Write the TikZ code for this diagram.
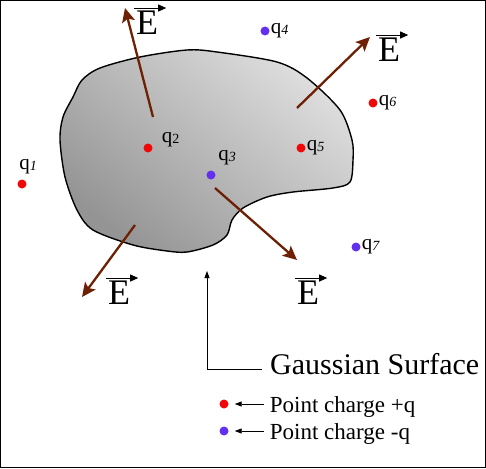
\documentclass[tikz,border=0pt]{standalone}
\usepackage{fontspec}
\setmainfont{Liberation Serif}
\usetikzlibrary{arrows.meta,positioning}

\definecolor{fieldbrown}{RGB}{110,32,4}
\definecolor{posred}{RGB}{240,8,8}
\definecolor{negblue}{RGB}{100,48,240}

\newcommand{\qsub}[1]{q\raisebox{-0.5pt}{\fontsize{14}{14}\selectfont #1}}

\begin{document}
\begin{tikzpicture}[
  x=1pt, y=-1pt,
  charge/.style={
    circle, inner sep=0pt, minimum size=9pt,
  },
  poscharge/.style={charge, fill=posred},
  negcharge/.style={charge, fill=negblue},
  qname/.style={font=\fontsize{21}{21}\selectfont, inner sep=1pt},
  field/.style={
    draw=fieldbrown, line width=2.3pt,
    -{Stealth[length=14pt, width=13pt, inset=3pt]}
  },
  efield/.style={font=\fontsize{36}{36}\selectfont, inner sep=0pt},
  vecarrow/.style={line width=0.9pt, -{Triangle[length=8pt, width=7pt]}},
  pointer/.style={line width=0.8pt, -{Triangle[length=7pt, width=5pt]}},
  legend/.style={font=\fontsize{23}{23}\selectfont, inner sep=0pt}
  ]
  \useasboundingbox (0,0) rectangle (486,468);
  \draw[line width=1.2pt] (0.6,0.6) rectangle (485.4,467.4);

  % the gaussian surface
  \draw[top color=black!13, bottom color=black!42, shading angle=-40, line width=1.4pt]
    plot[smooth cycle, tension=0.5] coordinates {
      (82,80) (100,68) (140,57) (187,50) (217,52) (277,62) (307,78)
      (340,110) (352,140) (353,160) (350,182) (333,188) (293,192)
      (267,197) (243,208) (232,220) (227,235) (213,245) (187,252)
      (167,251) (133,245) (93,230) (77,210) (65,177) (60,140)
      (63,117) (73,97)
    };

  % field arrows
  \coordinate (f1s) at (153,117);
  \coordinate (f1e) at (125,8);
  \coordinate (f2s) at (297,108);
  \coordinate (f2e) at (370,37);
  \coordinate (f3s) at (135,225);
  \coordinate (f3e) at (82,297);
  \coordinate (f4s) at (215,188);
  \coordinate (f4e) at (297,260);
  \draw[field] (f1s) -- (f1e);
  \draw[field] (f2s) -- (f2e);
  \draw[field] (f3s) -- (f3e);
  \draw[field] (f4s) -- (f4e);

  \node[efield] (e1) at (147,23) {E};
  \node[efield] (e2) at (389,50) {E};
  \node[efield] (e3) at (119,293) {E};
  \node[efield] (e4) at (308,293) {E};
  \foreach \e in {e1,e2,e3,e4}
    \draw[vecarrow] ([xshift=-2pt, yshift=3pt]\e.north west)
      -- ([xshift=8pt, yshift=3pt]\e.north east);

  % charges
  \node[poscharge] (q1) at (22,184) {};
  \node[poscharge] (q2) at (148,148) {};
  \node[negcharge] (q3) at (211,175) {};
  \node[negcharge] (q4) at (265,31) {};
  \node[poscharge] (q5) at (301,148) {};
  \node[poscharge] (q6) at (373,103) {};
  \node[negcharge] (q7) at (356,247) {};

  \node[qname] at (28,167) {\qsub{\itshape 1}};
  \node[qname, right=8pt of q2, yshift=8pt] {\qsub{2}};
  \node[qname] at (227,158) {\qsub{\itshape 3}};
  \node[qname, right=0pt of q4] {\qsub{\itshape 4}};
  \node[qname, right=0pt of q5] {\qsub{\itshape 5}};
  \node[qname, right=0pt of q6] {\qsub{\itshape 6}};
  \node[qname, right=0pt of q7] {\qsub{\itshape 7}};

  % pointer to the surface
  \coordinate (gtip) at (207,271);
  \coordinate (gbend) at (207,369);
  \node[font=\fontsize{30}{30}\selectfont, anchor=base west, inner sep=8pt]
    (gs) at (262,374) {Gaussian Surface};
  \draw[pointer] (gs.west |- gbend) -- (gbend) -- (gtip);

  % legend
  \node[poscharge] (dp) at (224,404) {};
  \node[negcharge] (dn) at (224,431) {};
  \node[legend, right=41pt of dp, yshift=-3pt] (lp) {Point charge +q};
  \node[legend, right=41pt of dn, yshift=-3pt] (ln) {Point charge -q};
  \draw[pointer, shorten <=6pt, shorten >=6pt] (lp.west |- dp) -- (dp);
  \draw[pointer, shorten <=6pt, shorten >=6pt] (ln.west |- dn) -- (dn);
\end{tikzpicture}
\end{document}
